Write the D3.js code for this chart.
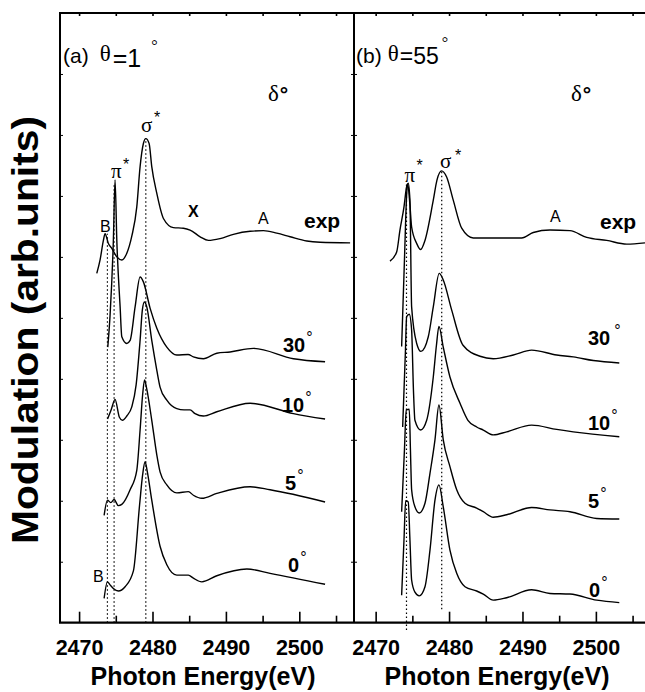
<!DOCTYPE html>
<html>
<head>
<meta charset="utf-8">
<script src="https://cdn.jsdelivr.net/npm/d3@7"></script>
<style>
  body { margin: 0; background: #fff; }
  text { font-family: "Liberation Sans", Arial, sans-serif; fill: #000; }
  .serif { font-family: "Liberation Serif", "Times New Roman", serif; }
</style>
</head>
<body>
<div id="chart"></div>
<script>
const width = 645, height = 692;

// tick values (eV)
const energyMajor = [2470, 2480, 2490, 2500];
const energyMinor = [2475, 2485, 2495, 2505];
const modTicks = [1, 2, 3, 4, 5, 6, 7, 8, 9];

// panel (a) theta = 1 deg : [energy eV, modulation]
const aExp = [[2472.41,5.73],[2472.86,5.95],[2473.31,6.27],[2473.54,6.38],[2473.99,6.22],[2474.46,6.14],[2475.14,6.0],[2475.82,5.95],[2476.5,6.06],[2477.18,6.34],[2477.86,6.82],[2478.31,7.48],[2478.76,7.86],[2479.09,7.94],[2479.54,7.86],[2479.9,7.48],[2480.59,7.04],[2481.49,6.63],[2482.85,6.48],[2484.21,6.47],[2485.12,6.44],[2486.49,6.33],[2487.62,6.27],[2489.21,6.30],[2491.02,6.37],[2493.3,6.42],[2495.11,6.43],[2496.93,6.39],[2498.75,6.33],[2501.02,6.26],[2502.83,6.24],[2506.92,6.23]];
const a30 = [[2473.91,4.52],[2474.22,5.04],[2474.67,6.27],[2474.90,7.26],[2475.14,6.27],[2475.59,5.18],[2475.82,4.69],[2476.5,4.58],[2476.95,4.63],[2477.63,5.18],[2478.31,5.67],[2478.76,5.59],[2479.67,5.16],[2480.59,4.83],[2481.95,4.52],[2483.31,4.39],[2484.85,4.40],[2485.57,4.36],[2486.93,4.33],[2488.76,4.42],[2490.57,4.44],[2493.75,4.50],[2499.2,4.33],[2503.51,4.28]];
const a10 = [[2473.88,3.34],[2474.36,3.49],[2474.9,3.66],[2475.49,3.37],[2475.9,3.32],[2476.5,3.39],[2477.18,3.54],[2477.77,3.90],[2478.31,4.63],[2478.62,5.13],[2478.9,5.26],[2479.22,5.18],[2479.9,4.63],[2480.59,4.14],[2481.04,3.86],[2481.95,3.65],[2483.31,3.51],[2484.3,3.49],[2485.12,3.49],[2485.8,3.43],[2486.93,3.39],[2488.76,3.46],[2493.3,3.60],[2499.2,3.43],[2503.51,3.34]];
const a5 = [[2473.41,1.76],[2473.86,2.01],[2474.32,1.97],[2474.77,2.02],[2475.35,1.92],[2475.82,1.94],[2476.95,2.18],[2477.86,2.50],[2478.31,3.16],[2478.65,3.73],[2478.92,3.98],[2479.19,3.85],[2479.9,3.32],[2480.59,2.75],[2481.04,2.47],[2481.95,2.26],[2483.31,2.13],[2484.89,2.15],[2485.57,2.09],[2486.72,2.04],[2488.76,2.12],[2493.3,2.23],[2496.02,2.18],[2503.51,1.98]];
const a0 = [[2473.41,0.40],[2473.86,0.67],[2474.22,0.62],[2474.67,0.56],[2475.35,0.52],[2476.27,0.59],[2477.4,0.85],[2478.24,1.93],[2478.65,2.42],[2478.99,2.64],[2479.26,2.50],[2479.9,2.01],[2481.04,1.25],[2481.95,0.95],[2483.31,0.78],[2484.89,0.78],[2485.57,0.73],[2486.72,0.67],[2488.76,0.77],[2492.85,0.88],[2496.02,0.81],[2503.51,0.63]];

// panel (b) theta = 55 deg
const bExp = [[2471.95,5.93],[2472.86,6.08],[2473.31,6.44],[2473.86,6.82],[2474.22,7.15],[2474.36,7.20],[2474.67,6.85],[2474.90,6.49],[2475.59,6.22],[2476.13,6.12],[2476.72,6.27],[2477.85,6.93],[2478.35,7.26],[2478.99,7.41],[2479.67,7.31],[2480.57,6.93],[2481.72,6.47],[2483.30,6.31],[2489.89,6.31],[2491.47,6.40],[2493.75,6.44],[2496.47,6.43],[2498.75,6.32],[2501.47,6.27],[2504.2,6.21],[2506.69,6.23]];
const b30 = [[2473.54,4.53],[2473.92,5.94],[2474.26,7.09],[2474.44,7.21],[2474.67,6.93],[2474.90,5.18],[2475.59,4.58],[2476.17,4.45],[2477.17,4.69],[2477.85,5.18],[2478.66,5.73],[2479.21,5.62],[2480.35,5.13],[2481.9,4.55],[2484.21,4.37],[2486.02,4.33],[2488.75,4.39],[2491.25,4.47],[2494.66,4.39],[2496.92,4.36],[2499.65,4.30],[2503.19,4.26]];
const b10 = [[2473.68,3.21],[2474.06,4.47],[2474.22,5.02],[2474.58,5.06],[2474.90,4.80],[2475.15,3.81],[2475.35,3.32],[2476.13,3.16],[2476.95,3.32],[2477.85,4.03],[2478.28,4.55],[2478.62,4.86],[2479.21,4.52],[2480.12,4.03],[2481.49,3.60],[2482.57,3.32],[2483.76,3.21],[2484.66,3.16],[2486.02,3.08],[2487.85,3.13],[2491.25,3.24],[2494.66,3.17],[2496.92,3.13],[2503.19,3.05]];
const b5 = [[2473.54,1.82],[2473.92,2.83],[2474.17,3.49],[2474.58,3.50],[2474.74,2.83],[2474.90,2.18],[2475.35,1.90],[2475.94,1.80],[2476.72,1.96],[2477.40,2.45],[2478.08,3.00],[2478.62,3.57],[2479.21,3.00],[2480.12,2.56],[2481.04,2.18],[2482.17,1.96],[2483.76,1.88],[2484.66,1.82],[2486.02,1.73],[2487.85,1.77],[2491.25,1.89],[2493.75,1.85],[2496.47,1.82],[2500.11,1.71],[2503.19,1.70]];
const b0 = [[2473.54,0.45],[2473.86,1.36],[2474.09,2.00],[2474.44,1.98],[2474.67,1.36],[2474.90,0.70],[2475.35,0.50],[2475.94,0.44],[2476.72,0.59],[2477.40,1.19],[2478.08,2.01],[2478.62,2.26],[2479.21,1.90],[2480.12,1.19],[2481.04,0.81],[2482.17,0.59],[2483.76,0.52],[2484.66,0.47],[2486.02,0.37],[2487.85,0.41],[2491.25,0.54],[2493.75,0.48],[2496.47,0.47],[2500.11,0.37],[2503.19,0.33]];

// dotted guide lines: [energy, from, to]
const aGuides = [[2473.86, 0, 6.38], [2474.77, 0, 7.2], [2479.09, 0, 7.94]];
const bGuides = [[2474.2, -0.12, 7.2], [2479.0, 0.22, 7.41]];

const svg = d3.select("#chart").append("svg")
    .attr("width", width)
    .attr("height", height);

const y = d3.scaleLinear().domain([0, 10]).range([622.7, 13]);

const xa = d3.scaleLinear().domain([2467.4, 2507.45]).range([60, 354]);
const xb = d3.scaleLinear().domain([2467.05, 2507.1]).range([354, 648]);

function drawPanel(x, curves, guides) {
    const g = svg.append("g");

    // ticks on top and bottom
    const all = energyMajor.concat(energyMinor);
    g.append("g").attr("transform", `translate(0,${y(10)})`)
        .call(d3.axisTop(x).tickValues(all).tickSize(-3).tickSizeOuter(0).tickFormat(""))
        .call(a => a.select(".domain").remove());
    g.append("g").attr("transform", `translate(0,${y(0)})`)
        .call(d3.axisBottom(x).tickValues(energyMinor).tickSize(-7).tickSizeOuter(0).tickFormat(""))
        .call(a => a.select(".domain").remove());
    g.append("g").attr("transform", `translate(0,${y(0)})`)
        .call(d3.axisBottom(x).tickValues(energyMajor).tickSize(-11).tickSizeOuter(0)
            .tickPadding(17).tickFormat(d3.format("d")))
        .call(a => a.select(".domain").remove())
        .call(a => a.selectAll("text").attr("font-size", 21.5).attr("font-weight", "bold")
            .attr("font-family", "Liberation Sans, Arial, sans-serif"));
    g.selectAll(".tick line").attr("stroke-width", 1.6);

    // y ticks on the left edge
    g.append("g").attr("transform", `translate(${x.range()[0]},0)`)
        .call(d3.axisLeft(y).tickValues(modTicks).tickSize(-3).tickFormat(""))
        .call(a => a.select(".domain").remove());

    // dotted guides
    g.selectAll(".guide").data(guides).join("line")
        .attr("x1", d => x(d[0])).attr("x2", d => x(d[0]))
        .attr("y1", d => y(d[1])).attr("y2", d => y(d[2]))
        .attr("stroke", "#000").attr("stroke-width", 1.2)
        .attr("stroke-dasharray", "1.5,2.5");

    const line = d3.line()
        .x(d => x(d[0]))
        .y(d => y(d[1]))
        .curve(d3.curveMonotoneX);

    g.selectAll(".curve").data(curves).join("path")
        .attr("fill", "none")
        .attr("stroke", "#000")
        .attr("stroke-width", 1.4)
        .attr("d", line);

    // frame
    const [x0, x1] = x.range();
    g.append("path")
        .attr("d", `M${x0},${y(0)}V${y(10)}H${x1}`)
        .attr("fill", "none").attr("stroke", "#000").attr("stroke-width", 2);
    return g;
}

drawPanel(xa, [aExp, a30, a10, a5, a0], aGuides);
drawPanel(xb, [bExp, b30, b10, b5, b0], bGuides);

// right edge of panel (a) ticks pointing inward
svg.append("g").attr("transform", "translate(354,0)")
    .call(d3.axisRight(y).tickValues(modTicks).tickSize(-3).tickFormat(""))
    .call(a => a.select(".domain").remove());

// bottom line across both panels
svg.append("line")
    .attr("x1", 59).attr("x2", 648).attr("y1", y(0)).attr("y2", y(0))
    .attr("stroke", "#000").attr("stroke-width", 2.2);

// axis titles
svg.append("text")
    .attr("transform", "translate(38,330) rotate(-90)")
    .attr("text-anchor", "middle")
    .attr("font-size", 36).attr("font-weight", "bold")
    .attr("textLength", 428).attr("lengthAdjust", "spacingAndGlyphs")
    .text("Modulation (arb.units)");

[203, 497].forEach(cx => {
    svg.append("text")
        .attr("x", cx).attr("y", 685)
        .attr("text-anchor", "middle")
        .attr("font-size", 25).attr("font-weight", "bold")
        .text("Photon Energy(eV)");
});

// panel titles
function title(xp, letter) {
    const t = svg.append("text").attr("x", xp).attr("y", 63).attr("font-size", 21);
    t.append("tspan").text(`(${letter})`);
    t.append("tspan").attr("class", "serif").attr("font-size", 23)
        .attr("dx", letter === "a" ? 11 : 6).attr("dy", -2).text("θ");
    t.append("tspan").attr("font-size", letter === "a" ? 25 : 23)
        .attr("dx", letter === "a" ? 2 : 1).attr("dy", letter === "a" ? 6 : 3)
        .text(letter === "a" ? "=1" : "=55");
    t.append("tspan").attr("class", "serif").attr("font-size", 16)
        .attr("dx", letter === "a" ? 10 : 3).attr("dy", -16).text("°");
}
title(63, "a");
title(356, "b");

function delta(xp) {
    const t = svg.append("text").attr("x", xp).attr("y", 101).attr("font-size", 23);
    t.append("tspan").attr("class", "serif").text("δ");
    t.append("tspan").attr("font-weight", "bold").attr("font-size", 21).attr("dx", 1).text("°");
}
delta(268);
delta(571);

// peak labels
function greek(xp, yp, ch, sx, sy) {
    svg.append("text").attr("class", "serif").attr("x", xp).attr("y", yp)
        .attr("font-size", 21).text(ch);
    svg.append("text").attr("x", xp + sx).attr("y", yp + sy)
        .attr("font-size", 16).text("*");
}
greek(141, 132, "σ", 13, -9);
greek(111, 178, "π", 12, -8);
greek(404.5, 182, "π", 12, -11);
greek(440, 168, "σ", 15, -7);

function label(xp, yp, txt, size, bold) {
    svg.append("text").attr("x", xp).attr("y", yp).attr("font-size", size)
        .attr("font-weight", bold ? "bold" : "normal").text(txt);
}
label(100, 232, "B", 16, false);
label(93, 582, "B", 16, false);
label(188, 217, "X", 16, true);
label(258, 224, "A", 16, false);
label(550, 222, "A", 16, false);
label(304, 228, "exp", 21, true);
label(600, 229, "exp", 21, true);

// curve angle labels
function angle(xp, yp, num, gap) {
    const t = svg.append("text").attr("x", xp).attr("y", yp)
        .attr("font-size", 20).attr("font-weight", "bold");
    t.append("tspan").text(num);
    t.append("tspan").attr("font-weight", "normal").attr("font-size", 16)
        .attr("dx", gap).attr("dy", -9).text("°");
}
angle(283, 352, "30", 1);
angle(282, 412, "10", 1);
angle(285, 490, "5", 1);
angle(288, 572, "0", 1);
angle(588, 345, "30", 4);
angle(588, 430, "10", 1);
angle(588, 508, "5", 1);
angle(589, 597, "0", 1);
</script>
</body>
</html>
